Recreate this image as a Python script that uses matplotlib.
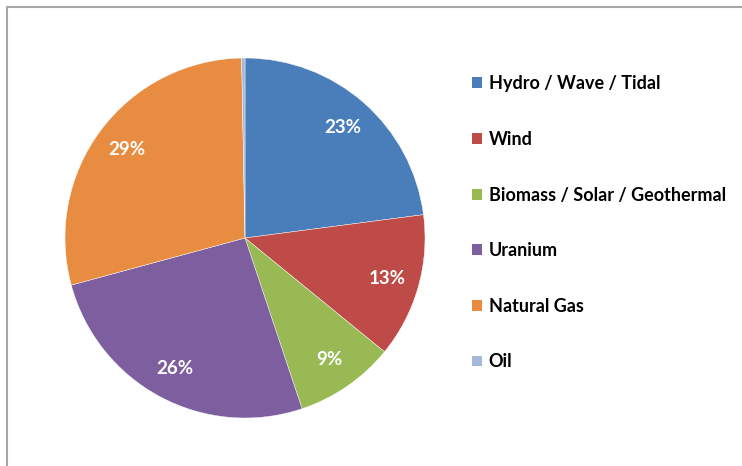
import matplotlib
matplotlib.use('Agg')
import matplotlib.pyplot as plt
from matplotlib.patches import Rectangle, Patch

plt.rcParams['font.family'] = ['Lato', 'DejaVu Sans']

sources = ['Hydro / Wave / Tidal', 'Wind', 'Biomass / Solar / Geothermal',
           'Uranium', 'Natural Gas', 'Oil']
shares = [23, 13, 9, 26, 29, 0.3]
colors = ['#4A7EBB', '#BE4B48', '#98B954', '#7D5FA0', '#E88C42', '#A4B8DC']

def pct_label(p):
  return f'{p:.0f}%' if p >= 1 else ''

fig = plt.figure(figsize=(7.42, 4.66), dpi=100)

# outer chart border, runs off the right and bottom edges
fig.patches.append(Rectangle((7 / 742, -0.1), 1.0, 1 - 7 / 466 + 0.1,
                             transform=fig.transFigure, fill=False,
                             edgecolor='#A6A6A6', linewidth=1.5))

ax = fig.add_axes([65 / 742, 48 / 466, 360 / 742, 360 / 466])
wedges, texts, autotexts = ax.pie(
  shares, colors=colors, startangle=90, counterclock=False,
  autopct=pct_label, pctdistance=0.82, radius=1.0,
  wedgeprops=dict(linewidth=0.3, edgecolor='white'),
  textprops=dict(color='white', fontsize=13.5, fontweight='bold'))
ax.set_xlim(-1, 1)
ax.set_ylim(-1, 1)

handles = [Patch(facecolor=c, edgecolor='none') for c in colors]
fig.legend(handles, sources, loc='upper left', bbox_to_anchor=(456 / 742, 1 - 59 / 466),
           frameon=False, handlelength=0.55, handleheight=0.55, handletextpad=0.35,
           labelspacing=2.14, prop=dict(size=13, weight='bold'))

plt.savefig('out.png', dpi=100)
plt.close()
